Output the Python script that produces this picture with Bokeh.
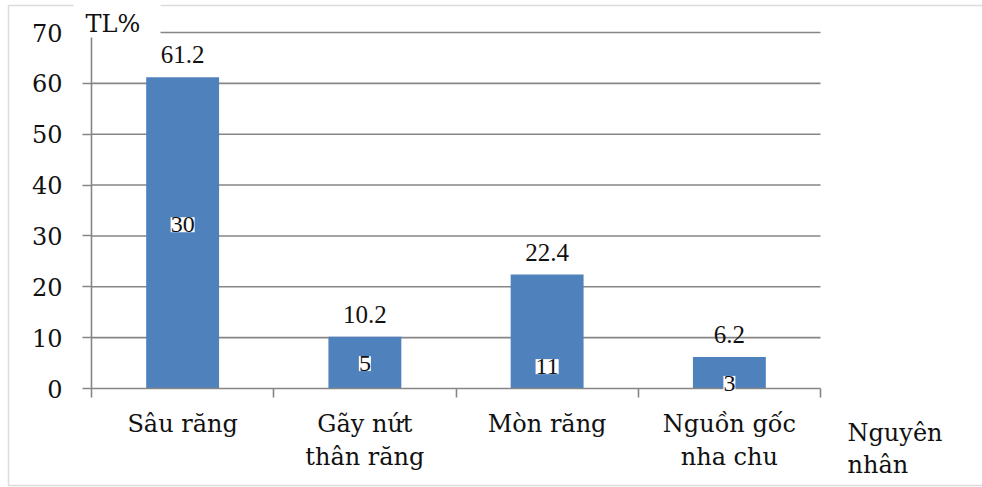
from bokeh.plotting import figure
from bokeh.models import (Range1d, LinearAxis, FixedTicker, ColumnDataSource,
                          LabelSet, Label, BoxAnnotation)
from bokeh.embed import file_html
from bokeh.resources import INLINE

categories = ["Sâu răng", "Gãy nứt\nthân răng", "Mòn răng", "Nguồn gốc\nnha chu"]
percent = [61.2, 10.2, 22.4, 6.2]
counts = ["30", "5", "11", "3"]
y_ticks = [0, 10, 20, 30, 40, 50, 60, 70]
y_title = "TL%"
x_title = "Nguyên\nnhân"

# layout-only anchors for the count boxes (as placed in the reference)
count_anchor = [32.2, 4.9, 4.3, 1.0]

FONT = "DejaVu Serif"
GREY = "#868686"
TXT = "#111111"
W, H = 982, 487

n = len(categories)
centers = [i + 0.5 for i in range(n)]
bounds_x = list(range(n + 1))

# plot area (pixels) inside the canvas: the frame covers the whole canvas
PL, PR, PT, PB = 91, 820, 32, 388
ppx = (PR - PL) / n
ppy = (PB - PT) / (y_ticks[-1] - y_ticks[0])
x_rng = Range1d(-PL / ppx, n + (W - PR) / ppx)
y_rng = Range1d(y_ticks[0] - (H - PB) / ppy, y_ticks[-1] + PT / ppy)

p = figure(width=W, height=H, x_range=x_rng, y_range=y_rng,
           x_axis_location=None, y_axis_location=None, output_backend="svg",
           toolbar_location=None, min_border=0, min_border_left=0, min_border_right=0,
           min_border_top=0, min_border_bottom=0)
p.outline_line_color = None
p.background_fill_color = "white"
p.border_fill_color = "white"
p.grid.visible = False

# outer picture frame (left, top, bottom edges visible)
border = BoxAnnotation(left=8, right=W + 20, top=H - 5, bottom=H - 485, left_units="screen",
                       right_units="screen", top_units="screen", bottom_units="screen",
                       fill_alpha=0, line_color="#8c8c8c", line_width=1.5, level="annotation")
p.add_layout(border)

gsrc = ColumnDataSource(dict(y=y_ticks[1:]))
p.segment(x0=0, x1=n, y0="y", y1="y", source=gsrc, line_color=GREY, line_width=1.6)

src = ColumnDataSource(dict(x=centers, val=percent, txt=[str(v) for v in percent],
                            cnt=counts, anc=count_anchor))
p.vbar(x="x", top="val", width=0.4, source=src, color="#4F81BD", line_color=None)

yaxis = LinearAxis(ticker=FixedTicker(ticks=y_ticks), bounds=(y_ticks[0], y_ticks[-1]),
                   fixed_location=0)
yaxis.axis_line_color = GREY
yaxis.axis_line_width = 1.6
yaxis.major_tick_line_color = GREY
yaxis.major_tick_line_width = 1.6
yaxis.major_tick_out = 9
yaxis.major_tick_in = 0
yaxis.minor_tick_line_color = None
yaxis.major_label_text_font = FONT
yaxis.major_label_text_font_size = "24px"
yaxis.major_label_text_color = TXT
yaxis.major_label_standoff = 20
p.add_layout(yaxis, "left")

xaxis = LinearAxis(ticker=FixedTicker(ticks=centers, minor_ticks=bounds_x),
                   bounds=(0, n), fixed_location=0,
                   major_label_overrides={c: lab for c, lab in zip(centers, categories)})
xaxis.axis_line_color = GREY
xaxis.axis_line_width = 1.6
xaxis.major_tick_line_color = None
xaxis.major_tick_out = 0
xaxis.major_tick_in = 0
xaxis.minor_tick_line_color = GREY
xaxis.minor_tick_line_width = 1.6
xaxis.minor_tick_out = 9
xaxis.minor_tick_in = 0
xaxis.major_label_text_font = FONT
xaxis.major_label_text_font_size = "24px"
xaxis.major_label_text_color = TXT
xaxis.major_label_standoff = 12
p.add_layout(xaxis, "below")

vals = LabelSet(x="x", y="val", text="txt", source=src, text_align="center",
                text_baseline="alphabetic", y_offset=14, text_font=FONT,
                text_font_size="25px", text_color=TXT)
p.add_layout(vals)

cnts = LabelSet(x="x", y="anc", text="cnt", source=src, text_align="center",
                text_baseline="middle", text_font=FONT, text_font_size="24px",
                text_color=TXT, background_fill_color="white")
p.add_layout(cnts)

# white patch behind the axis title, interrupting the frame line and top gridline
cover = BoxAnnotation(left=73, right=160, top=H + 5, bottom=H - 37, left_units="screen",
                      right_units="screen", top_units="screen", bottom_units="screen",
                      fill_color="white", fill_alpha=1, line_color=None, level="overlay")
p.add_layout(cover)

tl = Label(x=85, y=H - 23, x_units="screen", y_units="screen", text=y_title,
           text_font=FONT, text_font_size="24px", text_color=TXT,
           text_baseline="alphabetic", level="overlay")
p.add_layout(tl)

nn = Label(x=847, y=H - 418, x_units="screen", y_units="screen", text=x_title,
           text_font=FONT, text_font_size="24px", text_color=TXT,
           text_baseline="top", text_line_height=1.15)
p.add_layout(nn)

open("out.html", "w").write(file_html(p, INLINE))
